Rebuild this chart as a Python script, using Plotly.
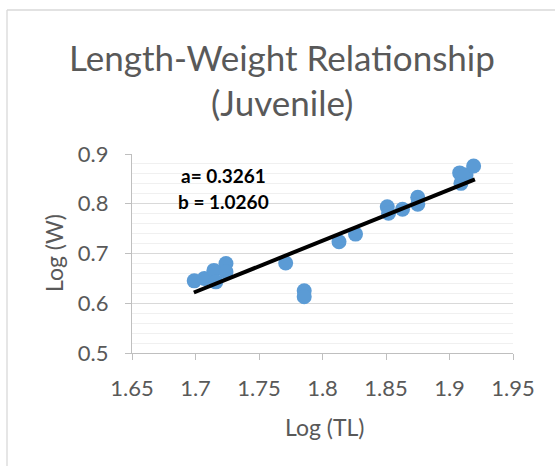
import plotly.graph_objects as go

# Data
log_tl = [1.699, 1.707, 1.7145, 1.716, 1.724, 1.724, 1.771, 1.7856, 1.7856,
          1.813, 1.826, 1.851, 1.852, 1.863, 1.875, 1.875, 1.908, 1.909, 1.913, 1.919]
log_w = [0.645, 0.650, 0.666, 0.643, 0.680, 0.663, 0.681, 0.625, 0.613,
         0.7235, 0.739, 0.794, 0.781, 0.789, 0.813, 0.799, 0.862, 0.841, 0.858, 0.876]

trend_x = [1.6987, 1.920]
trend_y = [0.6216, 0.849]

x_ticks = [1.65, 1.7, 1.75, 1.8, 1.85, 1.9, 1.95]
y_ticks = [0.5, 0.6, 0.7, 0.8, 0.9]

title_lines = ["Length-Weight Relationship", "(Juvenile)"]
eq_lines = ["a= 0.3261", "b = 1.0260"]

FONT = "Lato, Carlito, Calibri, sans-serif"
GREY = "#595959"

W, H = 555, 466
L, R, T, B = 132, 42, 154, 113
PW, PH = W - L - R, H - T - B


def px(xp):
    return (xp - L) / PW


def py(yp):
    return (H - B - yp) / PH


fig = go.Figure()
fig.add_trace(go.Scatter(
    x=log_tl, y=log_w, mode="markers",
    marker=dict(size=15, color="#5B9BD5", line=dict(width=0)),
    showlegend=False, hoverinfo="skip"))
fig.add_trace(go.Scatter(
    x=trend_x, y=trend_y, mode="lines",
    line=dict(color="black", width=4),
    showlegend=False, hoverinfo="skip"))

annotations = [
    dict(text=title_lines[0], x=px(282), y=py(57), xref="paper", yref="paper",
         showarrow=False, font=dict(family=FONT, size=35, color=GREY),
         xanchor="center", yanchor="middle"),
    dict(text=title_lines[1], x=px(282), y=py(102), xref="paper", yref="paper",
         showarrow=False, font=dict(family=FONT, size=35, color=GREY),
         xanchor="center", yanchor="middle"),
    dict(text="<b>%s</b>" % eq_lines[0], x=px(223), y=py(175), xref="paper", yref="paper",
         showarrow=False, font=dict(family=FONT, size=19, color="black"),
         xanchor="center", yanchor="middle"),
    dict(text="<b>%s</b>" % eq_lines[1], x=px(223), y=py(201), xref="paper", yref="paper",
         showarrow=False, font=dict(family=FONT, size=19, color="black"),
         xanchor="center", yanchor="middle"),
    dict(text="Log (TL)", x=px(324), y=py(427), xref="paper", yref="paper",
         showarrow=False, font=dict(family=FONT, size=23, color=GREY),
         xanchor="center", yanchor="middle"),
    dict(text="Log (W)", x=px(54), y=py(253), xref="paper", yref="paper",
         showarrow=False, font=dict(family=FONT, size=23, color=GREY),
         textangle=-90, xanchor="center", yanchor="middle"),
]

BORDER = dict(color="#d9d9d9", width=1.3)
shapes = [
    dict(type="line", xref="paper", yref="paper",
         x0=px(7), x1=px(7), y0=py(470), y1=py(10), line=BORDER, layer="below"),
    dict(type="line", xref="paper", yref="paper",
         x0=px(7), x1=px(560), y0=py(10), y1=py(10), line=BORDER, layer="below"),
]

fig.update_layout(
    width=W, height=H,
    margin=dict(l=L, r=R, t=T, b=B, pad=0),
    paper_bgcolor="white", plot_bgcolor="white",
    annotations=annotations, shapes=shapes,
    font=dict(family=FONT, color=GREY),
)
fig.update_xaxes(
    range=[1.65, 1.95], tickvals=x_ticks, ticktext=[str(v) for v in x_ticks],
    showgrid=False, zeroline=False,
    showline=True, linecolor="#bfbfbf", linewidth=1.3,
    ticks="outside", ticklen=6, tickcolor="#bfbfbf", tickwidth=1.3,
    tickfont=dict(family=FONT, size=22, color=GREY), ticklabelstandoff=9,
)
fig.update_yaxes(
    range=[0.5, 0.9], tickvals=y_ticks, ticktext=[str(v) for v in y_ticks],
    showgrid=True, gridcolor="#d9d9d9", gridwidth=1.3, zeroline=False,
    showline=True, linecolor="#bfbfbf", linewidth=1.3,
    ticks="outside", ticklen=6, tickcolor="#bfbfbf", tickwidth=1.3,
    tickfont=dict(family=FONT, size=22, color=GREY), ticklabelstandoff=12,
    minor=dict(dtick=0.02, showgrid=True, gridcolor="#f0f0f0", gridwidth=1.3, ticks=""),
)

fig.write_html(
    "out.html",
    config={"displayModeBar": False},
    post_script="document.body.style.margin='0';document.body.style.overflow='hidden';",
)
